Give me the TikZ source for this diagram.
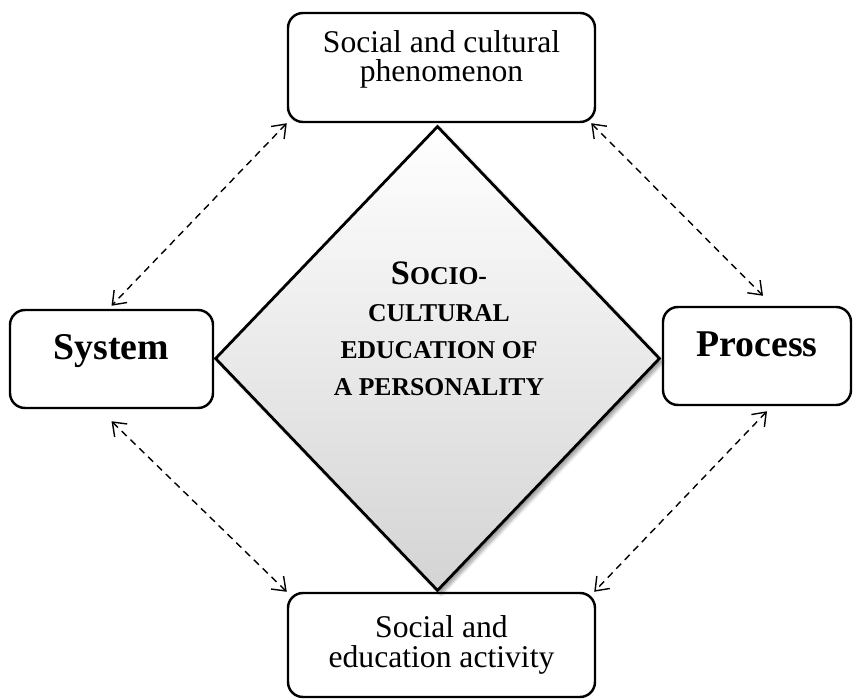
\documentclass[tikz,border=0pt]{standalone}
\usepackage{fontspec}
\setmainfont{Liberation Serif}
\usetikzlibrary{shapes.geometric,arrows.meta,shadows.blur}
\begin{document}
\begin{tikzpicture}[
    box/.style={draw, line width=1.4pt, rounded corners=0.3cm, align=center},
    link/.style={line width=0.8pt, dash pattern=on 4pt off 3pt,
      {Straight Barb[length=2.4mm,width=3.6mm]}-{Straight Barb[length=2.4mm,width=3.6mm]}}]
    \useasboundingbox (0,0) rectangle (17.06,13.96);
    \node[diamond, draw, line width=1.6pt, minimum width=8.9cm, minimum height=9.3cm, inner sep=0pt,
      top color=white, bottom color=black!17,
      blur shadow={shadow xshift=0.7mm, shadow yshift=-0.7mm, shadow blur steps=6}] (core) at (8.75,6.79) {};
    \node[align=center, font=\bfseries\fontsize{14.6}{21}\selectfont] (title) at (8.78,7.39)
      {{\fontsize{19.5}{21}\selectfont S}OCIO-\\CULTURAL\\EDUCATION OF\\A PERSONALITY};
    \node[box, minimum width=6.14cm, minimum height=2.18cm, font=\fontsize{18}{16.5}\selectfont] (pheno) at (8.83,12.61)
      {Social and cultural\\phenomenon\\[-4pt]};
    \node[box, minimum width=4.06cm, minimum height=1.96cm, font=\bfseries\fontsize{21.5}{24}\selectfont,
      text height=0.5cm, text depth=0.5cm] (sys) at (2.23,6.78) {System};
    \node[box, minimum width=3.76cm, minimum height=1.96cm, font=\bfseries\fontsize{21.5}{24}\selectfont,
      text height=0.5cm, text depth=0.5cm] (proc) at (15.14,6.84) {Process};
    \node[box, minimum width=6.14cm, minimum height=2.08cm, font=\fontsize{18}{17.5}\selectfont] (act) at (8.83,1.06)
      {Social and\\education activity};
    \draw[link] (pheno.south west) -- ([yshift=0.06cm]sys.north);
    \draw[link] ([xshift=-0.1cm]pheno.south east) -- ([shift={(0.12,0.2)}]proc.north);
    \draw[link] ([yshift=-0.24cm]sys.south) -- (act.north west);
    \draw[link] ([shift={(0.2,-0.1)}]proc.south) -- ([xshift=-0.04cm]act.north east);
\end{tikzpicture}
\end{document}
